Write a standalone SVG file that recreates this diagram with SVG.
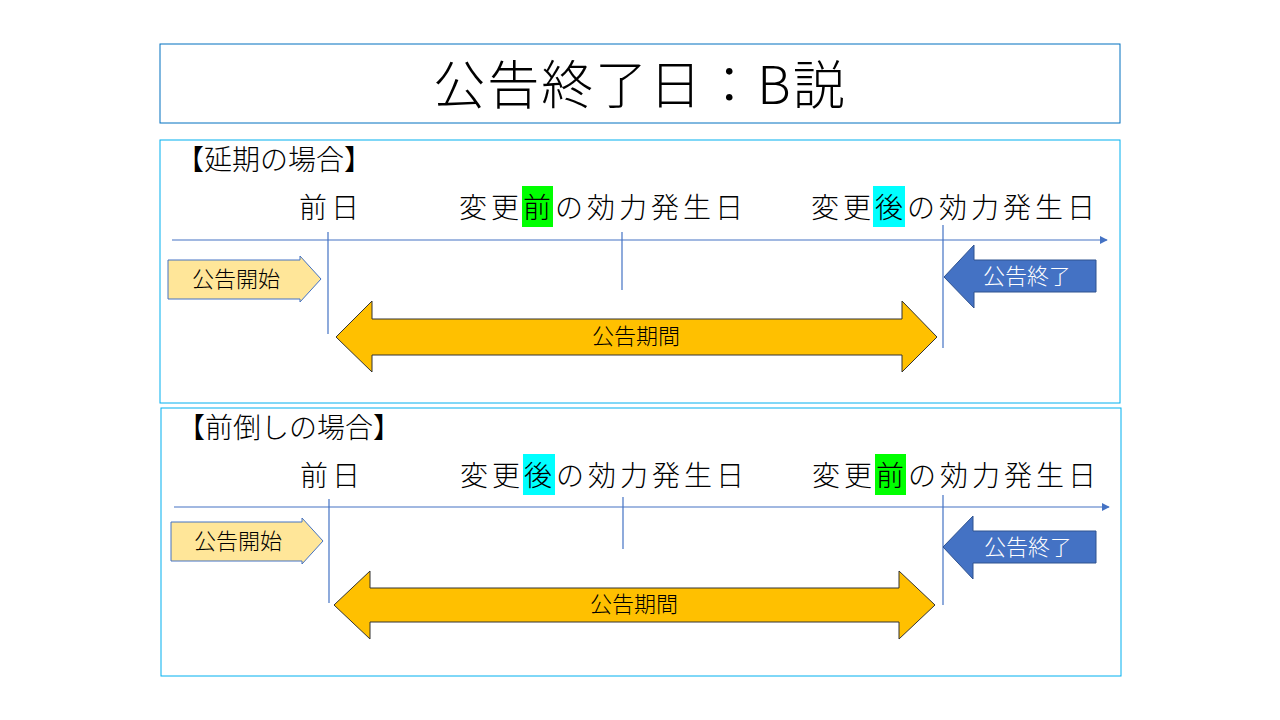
<svg xmlns="http://www.w3.org/2000/svg" width="1280" height="720" viewBox="0 0 1280 720">
<defs>
<style>
text{font-family:"Noto Sans CJK JP","Noto Sans",sans-serif;fill:#000;font-weight:300}
.panel{fill:#fff;stroke:#00B0F0;stroke-width:1}
.lbl{font-size:28px;letter-spacing:4px}
.hd{font-size:28px}
.ax{stroke:#4472C4;stroke-width:1.2;fill:none}
.start{fill:#FFE699;stroke:#4472C4;stroke-width:1}
.end{fill:#4472C4;stroke:#2F528F;stroke-width:1}
.dbl{fill:#FFC000;stroke:#333;stroke-width:1}
.sm{font-size:22px;text-anchor:middle}
</style>
<marker id="ah" viewBox="0 0 10 10" refX="9" refY="5" markerWidth="8" markerHeight="8" markerUnits="userSpaceOnUse" orient="auto"><path d="M0,0L10,5L0,10z" fill="#4472C4"/></marker>
</defs>
<rect width="1280" height="720" fill="#fff"/>
<g id="title"><rect x="160" y="44" width="960" height="79" fill="#fff" stroke="#0070C0"/><text x="640" y="104" font-size="52" text-anchor="middle" letter-spacing="2">公告終了日：B説</text></g>
<g id="panel1">
<rect class="panel" x="160" y="140" width="960" height="263"/>
<text class="hd" x="176" y="170">【延期の場合】</text>
<rect x="522" y="186" width="31" height="41" fill="#00FF00"/>
<rect x="873" y="186" width="32" height="41" fill="#00FFFF"/>
<text class="lbl" x="299" y="218">前日</text>
<text class="lbl" x="459" y="218">変更前の効力発生日</text>
<text class="lbl" x="811" y="218">変更後の効力発生日</text>
</g>
<g id="panel2">
<rect class="panel" x="161" y="408" width="960" height="268"/>
<text class="hd" x="177" y="438">【前倒しの場合】</text>
<rect x="523" y="454" width="32" height="41" fill="#00FFFF"/>
<rect x="875" y="454" width="31" height="41" fill="#00FF00"/>
<text class="lbl" x="300" y="486">前日</text>
<text class="lbl" x="460" y="486">変更後の効力発生日</text>
<text class="lbl" x="812" y="486">変更前の効力発生日</text>
</g>
<g id="connectors">
<line class="ax" x1="172" y1="240" x2="1107" y2="240" marker-end="url(#ah)"/>
<line class="ax" x1="328" y1="232" x2="328" y2="334"/>
<line class="ax" x1="622" y1="232" x2="622" y2="290"/>
<line class="ax" x1="943" y1="225" x2="943" y2="348"/>
<line class="ax" x1="174" y1="507" x2="1109" y2="507" marker-end="url(#ah)"/>
<line class="ax" x1="329" y1="499" x2="329" y2="603"/>
<line class="ax" x1="623" y1="497" x2="623" y2="549"/>
<line class="ax" x1="943" y1="495" x2="943" y2="605"/>
</g>
<g id="start1"><polygon class="start" points="168,260 300,260 300,256 321,279 300,302 300,299 168,299"/><text class="sm" x="236" y="287">公告開始</text></g>
<g id="end1"><polygon class="end" points="944,277 974,245 974,260 1096,260 1096,292 974,292 974,308"/><text class="sm" x="1027" y="284" style="fill:#fff">公告終了</text></g>
<g id="period1"><polygon class="dbl" points="336,337 372,301 372,319 902,319 902,301 937,337 902,372 902,355 372,355 372,372"/><text class="sm" x="636" y="344">公告期間</text></g>
<g id="start2"><polygon class="start" points="171,522 302,522 302,518 323,541 302,564 302,561 171,561"/><text class="sm" x="238" y="549">公告開始</text></g>
<g id="end2"><polygon class="end" points="943,547 973,516 973,531 1096,531 1096,563 973,563 973,579"/><text class="sm" x="1028" y="555" style="fill:#fff">公告終了</text></g>
<g id="period2"><polygon class="dbl" points="334,605 370,571 370,588 899,588 899,571 935,605 899,639 899,622 370,622 370,639"/><text class="sm" x="634" y="612">公告期間</text></g>
</svg>
